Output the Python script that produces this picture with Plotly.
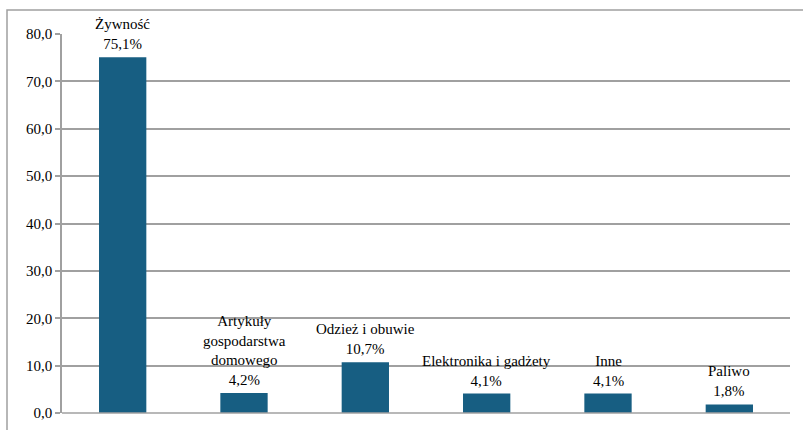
import plotly.graph_objects as go

categories = ["Żywność", "Artykuły<br>gospodarstwa<br>domowego", "Odzież i obuwie",
              "Elektronika i gadżety", "Inne", "Paliwo"]
values = [75.1, 4.2, 10.7, 4.1, 4.1, 1.8]
value_labels = ["75,1%", "4,2%", "10,7%", "4,1%", "4,1%", "1,8%"]
tick_vals = [0, 10, 20, 30, 40, 50, 60, 70, 80]
tick_text = ["0,0", "10,0", "20,0", "30,0", "40,0", "50,0", "60,0", "70,0", "80,0"]

texts = [f"{c}<br>{v}" for c, v in zip(categories, value_labels)]
FONT = "Times New Roman, Liberation Serif, Tinos, DejaVu Serif, serif"
xs = list(range(len(values)))

fig = go.Figure(go.Bar(
    x=xs, y=values,
    marker=dict(color="#175e82", line=dict(width=0)),
    hoverinfo="skip",
))

for x, y, t in zip(xs, values, texts):
    fig.add_annotation(x=x, y=y, text=t, showarrow=False, xanchor="center",
                       yanchor="bottom", yshift=3, align="center",
                       font=dict(family=FONT, size=15, color="black"))

W, H = 803, 430
ml, mr, mt, mb = 62, 13, 34, 17
pw, ph = W - ml - mr, H - mt - mb

fig.update_layout(
    width=W, height=H,
    margin=dict(l=ml, r=mr, t=mt, b=mb, autoexpand=False),
    paper_bgcolor="white", plot_bgcolor="white",
    bargap=0.61, showlegend=False,
    font=dict(family=FONT, size=15, color="black"),
    xaxis=dict(range=[-0.5, len(values) - 0.5], showticklabels=False, automargin=False,
               showgrid=False, zeroline=False, showline=False, ticks=""),
    yaxis=dict(range=[0, 80], tickvals=tick_vals, ticktext=tick_text, automargin=False,
               showgrid=True, gridcolor="#a0a0a0", gridwidth=1.5,
               showline=True, linecolor="#a0a0a0", linewidth=1.5,
               ticks="outside", ticklen=5, tickcolor="#a0a0a0", tickwidth=1.5,
               zeroline=False,
               tickfont=dict(family=FONT, size=15, color="black")),
    shapes=[
        dict(type="line", xref="paper", yref="paper", x0=0, x1=1, y0=0, y1=0,
             line=dict(color="#a0a0a0", width=1.5)),
        dict(type="rect", xref="paper", yref="paper",
             x0=(7 - ml) / pw, x1=(W + 20 - ml) / pw,
             y0=-(H + 20 - mt - ph) / ph, y1=(ph + mt - 10) / ph,
             line=dict(color="#a0a0a0", width=1.5), fillcolor="rgba(0,0,0,0)",
             layer="below"),
    ],
)

fig.write_html("out.html", config={"displayModeBar": False},
               post_script="document.body.style.margin='0';document.body.style.overflow='hidden';")
